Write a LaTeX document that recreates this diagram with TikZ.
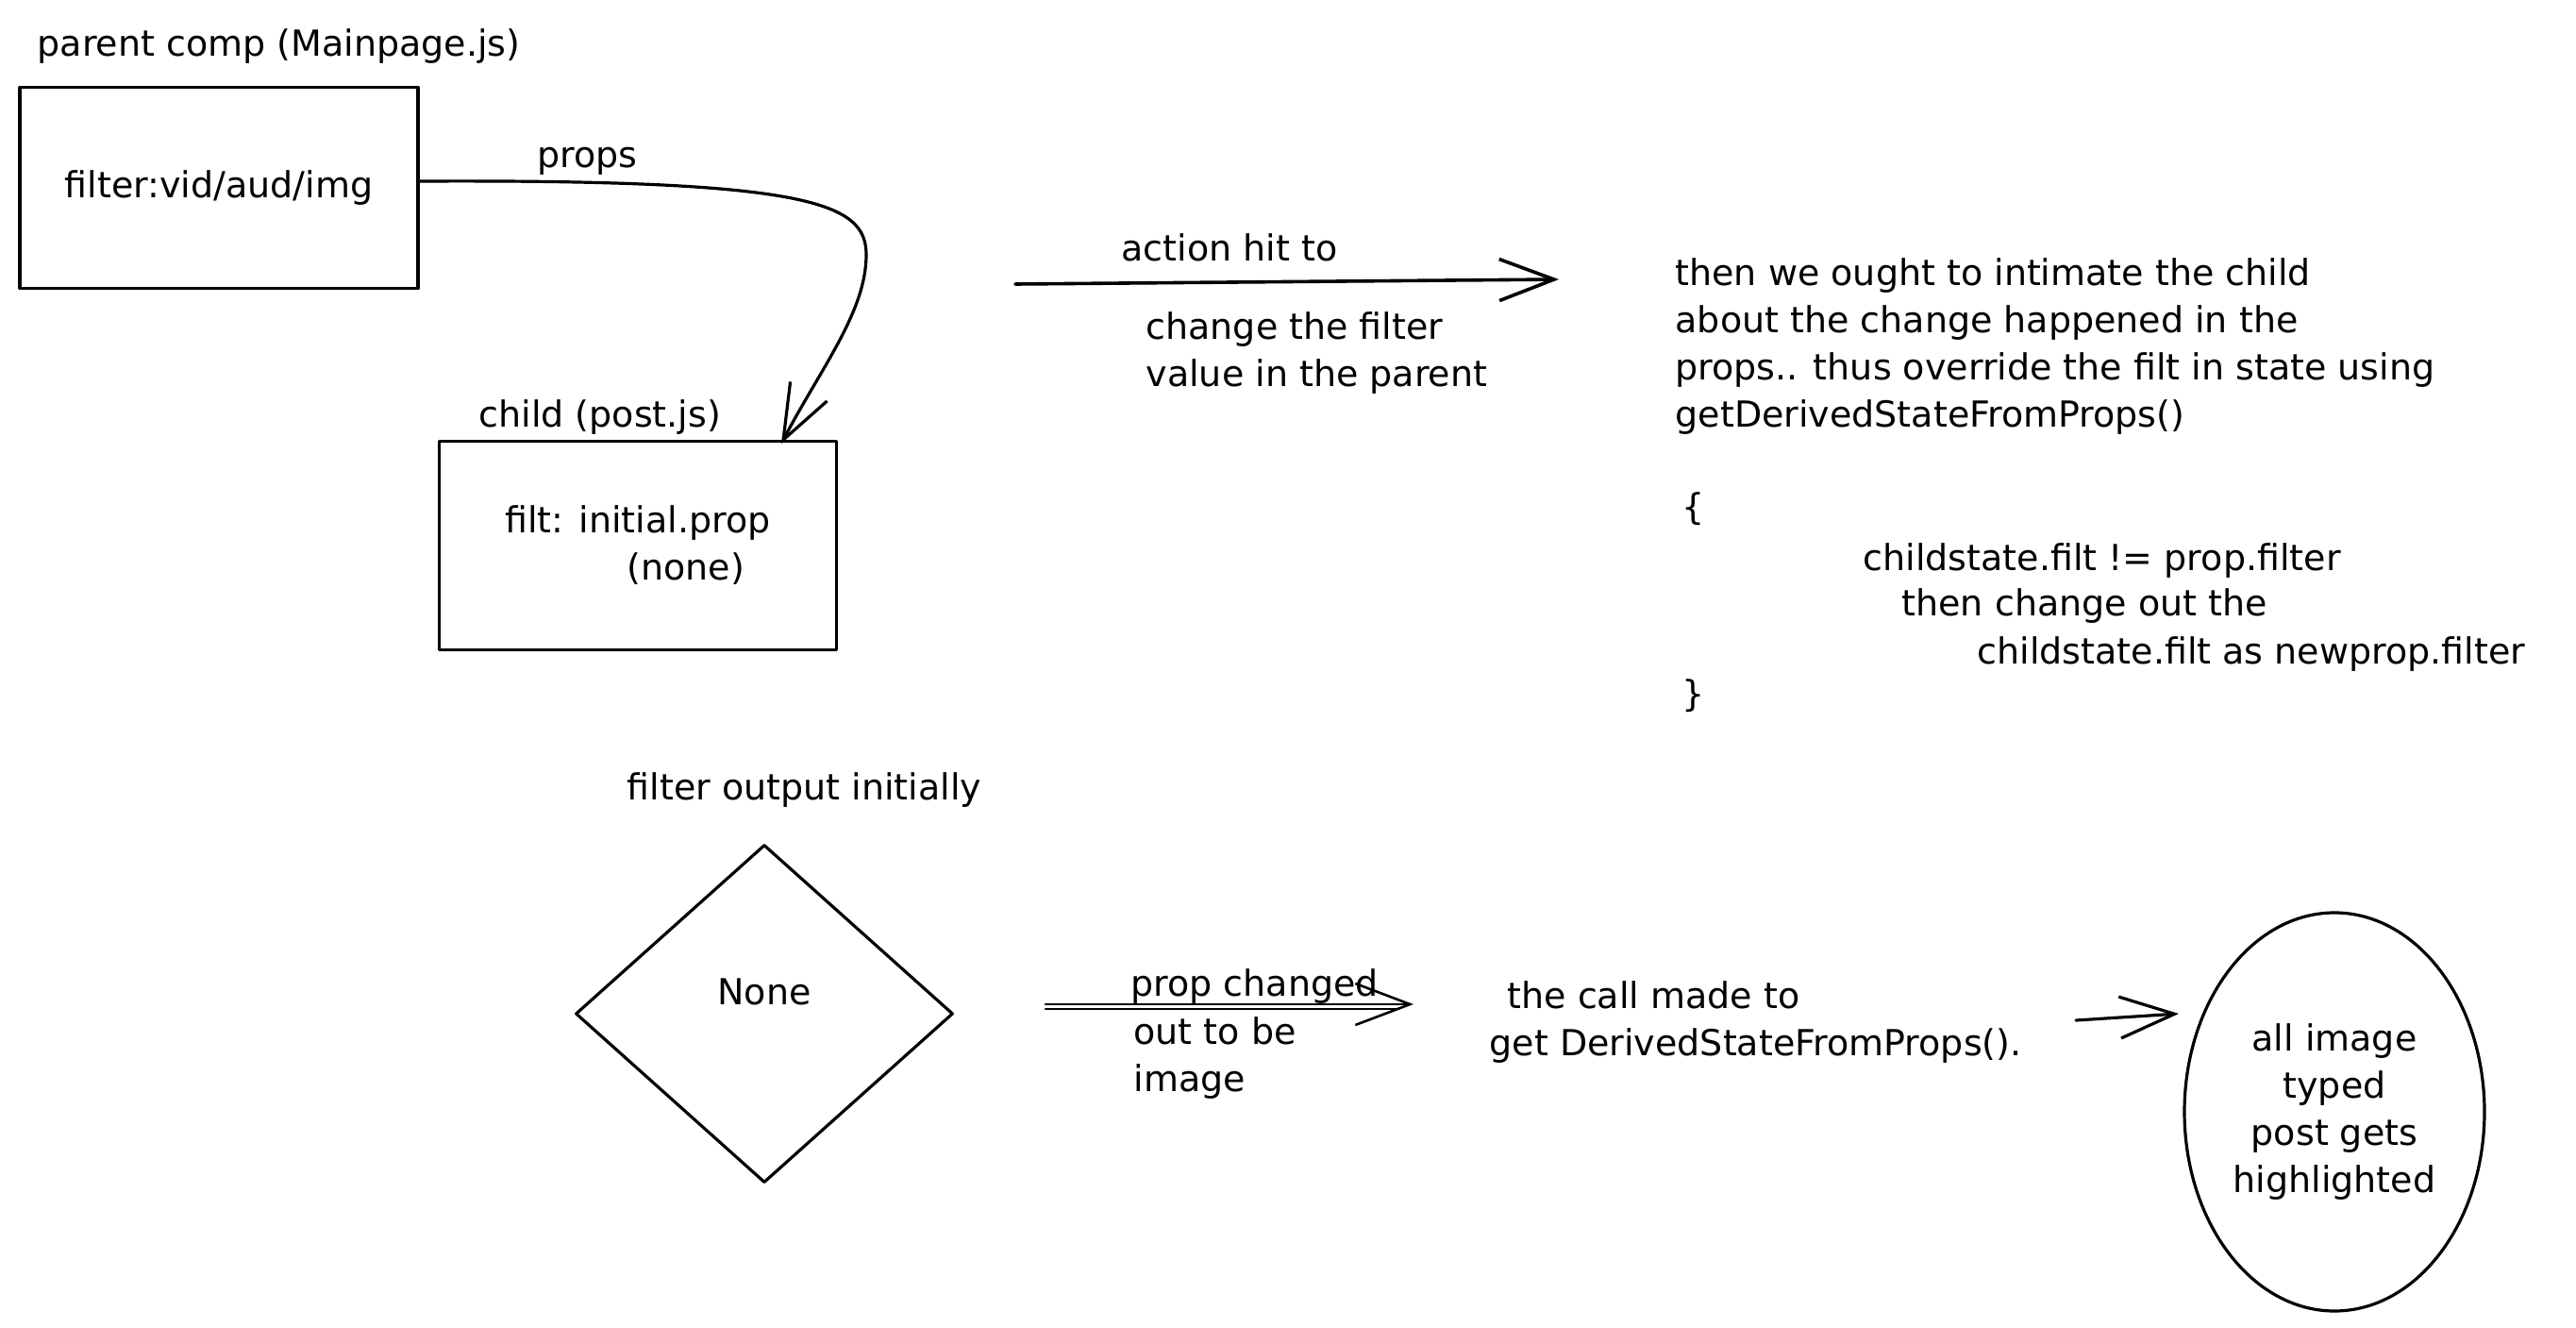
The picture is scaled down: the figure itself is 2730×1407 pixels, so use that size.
\documentclass[tikz,border=0pt]{standalone}
\usepackage{fontspec}
\setmainfont{DejaVu Sans}
\usetikzlibrary{shapes.geometric,arrows.meta}
\begin{document}
\begin{tikzpicture}[x=1pt,y=-1pt, line width=3.2pt, line cap=round, line join=round,
  txtfont/.style={font=\fontsize{38}{50}\selectfont},
  lbl/.style={txtfont, inner sep=0pt, anchor=west, text height=29pt, text depth=9pt},
  blk/.style={txtfont, inner sep=0pt, align=left, anchor=west},
  boxnode/.style={txtfont, draw, rectangle, inner sep=0pt},
  barb/.style={-{Straight Barb[length=58pt,width=44pt]}},
]
\useasboundingbox (0,0) rectangle (2730,1407);

% top left: parent and child
\node[lbl] (ptitle) at (38,50) {parent comp (Mainpage.js)};
\node[boxnode, minimum width=422pt, minimum height=213pt] (parent) at (232,199) {filter:vid/aud/img};
\node[lbl] (propslbl) at (568,168) {props};
\node[lbl] (childlbl) at (506,442) {child (post.js)};
\node[boxnode, minimum width=421pt, minimum height=221pt, align=left] (child) at (676,578)
  {filt: initial.prop\\\hspace*{129pt}(none)};
\coordinate (propsend) at (828,470);
\draw[barb] ([yshift=7pt]parent.east) .. controls (860,190) and (918,215) .. (918,270)
  .. controls (918,330) and (870,390) .. (propsend);

% action arrow
\coordinate (a1) at (1076,301);
\coordinate (a2) at (1652,296);
\draw[barb, line width=3.6pt] (a1) -- (a2);
\node[lbl] (acthit) at (1187,266) {action hit to};
\node[blk] (chg) at (1213,374) {change the filter\\value in the parent};

% explanation block
\node[blk] (explain) at (1774,367) {then we ought to intimate the child\\about the change happened in the\\props.. thus override the filt in state using\\getDerivedStateFromProps()};
\node[lbl] (lbrace) at (1781,540) {\{};
\node[lbl] (code1) at (1973,594) {childstate.filt != prop.filter};
\node[lbl] (code2) at (2014,642) {then change out the};
\node[lbl] (code3) at (2094,693) {childstate.filt as newprop.filter};
\node[lbl] (rbrace) at (1781,738) {\}};

% bottom row
\node[lbl] (folbl) at (663,837) {filter output initially};
\node[txtfont, draw, diamond, minimum width=400pt, minimum height=358pt, inner sep=0pt] (dia) at (810,1074) {\raisebox{10pt}[0pt][0pt]{None}};

\coordinate (p1) at (1108,1064);
\coordinate (p2) at (1498,1064);
\coordinate (q1) at (1108,1069);
\coordinate (q2) at (1480,1069);
\draw[barb, line width=2.6pt] (p1) -- (p2);
\draw[line width=2.6pt] (q1) -- (q2);
\node[lbl] (pchg) at (1197,1045) {prop changed};
\node[blk] (pout) at (1200,1121) {out to be\\image};

\node[blk] (call) at (1577,1083) {\hspace*{19pt}the call made to\\get DerivedStateFromProps().};

\node[txtfont, draw, ellipse, minimum width=318pt, minimum height=422pt, inner sep=0pt, align=center] (ell) at (2474,1178)
  {all image\\typed\\post gets\\highlighted};
\coordinate (c1) at (2200,1081);
\coordinate (c2) at (2309,1074);
\draw[barb] (c1) -- (c2);
\end{tikzpicture}
\end{document}
